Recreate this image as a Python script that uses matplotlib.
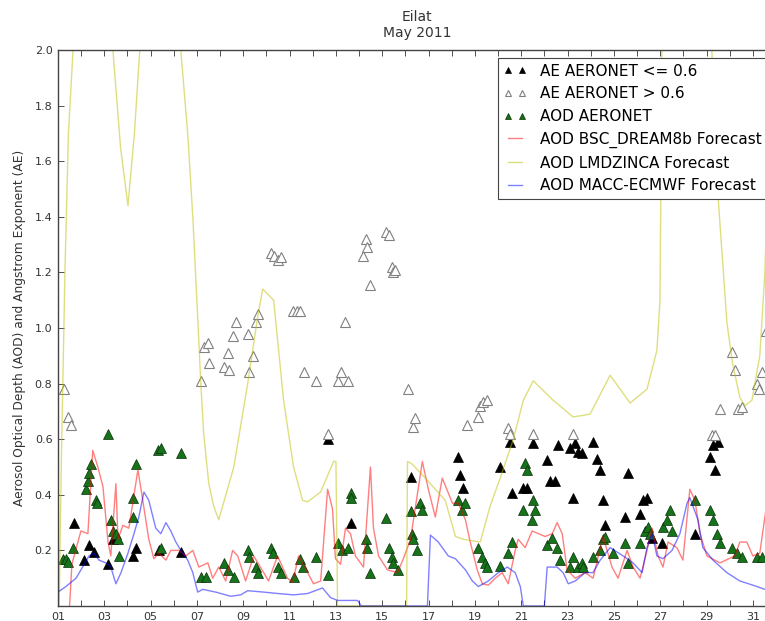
import matplotlib
matplotlib.use('Agg')
import matplotlib.pyplot as plt

# AOD forecasts (day of month, value)
bsc_days = [1.5, 1.6, 1.99, 2.29, 2.5, 2.72, 2.94, 3.16, 3.28, 3.5, 3.59, 3.8,
            4.06, 4.45, 4.66, 4.92, 5.14, 5.35, 5.66, 5.87, 6.22, 6.52, 6.82,
            7.08, 7.47, 7.68, 7.94, 8.24, 8.54, 8.76, 9.1, 9.45, 9.88, 10.09,
            10.48, 10.91, 11.13, 11.39, 11.78, 12.03, 12.34, 12.64, 12.85,
            12.98, 13.2, 13.41, 13.63, 13.84, 14.19, 14.49, 14.62, 14.84,
            15.22, 15.66, 15.91, 16.22, 16.73, 16.99, 17.29, 17.59, 18.03,
            18.28, 18.59, 18.8, 19.1, 19.32, 19.58, 19.88, 20.18, 20.44, 20.74,
            20.87, 21.17, 21.47, 22.03, 22.34, 22.55, 22.77, 22.98, 23.33,
            23.76, 24.1, 24.53, 24.92, 25.18, 25.57, 25.83, 26.13, 26.43,
            26.65, 26.91, 27.12, 27.34, 27.72, 27.98, 28.28, 28.5, 28.72,
            29.02, 29.58, 30.22, 30.44, 30.74, 31.0, 31.3, 31.52, 31.75]
bsc_aod = [0.0, 0.15, 0.27, 0.26, 0.56, 0.50, 0.43, 0.23, 0.18, 0.44, 0.24, 0.29,
           0.28, 0.49, 0.38, 0.24, 0.17, 0.19, 0.165, 0.2, 0.2, 0.18, 0.2,
           0.14, 0.155, 0.10, 0.14, 0.09, 0.2, 0.18, 0.09, 0.18, 0.12, 0.09,
           0.18, 0.10, 0.085, 0.18, 0.12, 0.08, 0.09, 0.42, 0.35,
           0.17, 0.15, 0.28, 0.26, 0.18, 0.14, 0.5, 0.28, 0.18,
           0.13, 0.12, 0.17, 0.24, 0.52, 0.42, 0.32, 0.46, 0.37,
           0.37, 0.31, 0.23, 0.13, 0.08, 0.075, 0.10, 0.12, 0.08, 0.2,
           0.24, 0.21, 0.27, 0.25, 0.26, 0.3, 0.26, 0.13, 0.10,
           0.12, 0.10, 0.25, 0.14, 0.10, 0.2, 0.14, 0.10, 0.2,
           0.28, 0.18, 0.14, 0.23, 0.21, 0.165, 0.42, 0.38, 0.26,
           0.18, 0.155, 0.18, 0.23, 0.23, 0.18, 0.19, 0.32, 0.45]

lmdz_days = [1.05, 1.15, 1.3, 1.45, 1.65, 2.3, 3.0, 3.37, 3.7, 4.02, 4.3, 4.53,
             5.3, 6.3, 6.6, 6.82, 7.03, 7.16, 7.29, 7.51, 7.72, 7.94, 8.59,
             9.19, 9.62, 9.84, 10.31, 10.74, 11.17, 11.56, 11.78, 12.34, 12.9,
             13.0, 13.07, 16.05, 16.09, 16.3, 16.86, 17.72, 18.16, 18.5,
             19.23, 19.66, 20.09, 20.66, 21.09, 21.52, 22.38, 23.24, 23.97,
             24.84, 25.7, 26.43, 26.86, 26.99, 27.03, 27.07, 28.2, 29.23,
             29.5, 29.88, 30.13, 30.44, 30.66, 30.96, 31.3, 31.52, 31.8]
lmdz_aod = [0.0, 0.55, 1.2, 1.7, 2.0, 2.6, 2.4, 2.0, 1.65, 1.44, 1.7, 2.0,
            2.5, 2.0, 1.7, 1.4, 1.04, 0.81, 0.62, 0.44, 0.36, 0.31, 0.5,
            0.8, 1.04, 1.14, 1.10, 0.74, 0.5, 0.38, 0.375, 0.41, 0.52,
            0.52, 0.0, 0.0, 0.52, 0.51, 0.46, 0.38, 0.25, 0.24,
            0.23, 0.36, 0.46, 0.6, 0.74, 0.81, 0.74, 0.68, 0.69,
            0.83, 0.73, 0.78, 0.92, 1.1, 1.5, 2.0, 2.8, 2.0,
            1.47, 1.02, 0.87, 0.75, 0.72, 0.74, 0.9, 1.2, 2.0]

macc_days = [1.0, 1.34, 1.78, 2.34, 2.55, 2.77, 3.07, 3.28, 3.5, 3.72, 4.02,
             4.28, 4.49, 4.71, 4.92, 5.22, 5.44, 5.66, 5.87, 6.09, 6.3, 6.6,
             6.82, 7.03, 7.25, 7.81, 8.46, 8.89, 9.19, 9.88, 10.48, 11.17,
             11.78, 12.42, 12.77, 13.07, 13.93, 14.1, 16.95, 17.08, 17.42,
             17.85, 18.16, 18.59, 18.89, 19.15, 19.58, 20.01, 20.4, 20.74,
             20.96, 21.09, 22.0, 22.12, 22.55, 22.81, 23.03, 23.33, 23.76,
             24.1, 24.41, 24.84, 25.4, 25.83, 26.22, 26.43, 26.65, 26.86,
             27.12, 27.51, 27.85, 28.16, 28.28, 28.41, 28.63, 28.84, 29.28,
             29.88, 30.44, 31.0, 31.52, 32.0]
macc_aod = [0.05, 0.07, 0.10, 0.18, 0.19, 0.165, 0.155, 0.14, 0.08, 0.12, 0.19,
            0.26, 0.32, 0.41, 0.38, 0.28, 0.26, 0.3, 0.27, 0.23, 0.2, 0.165,
            0.12, 0.05, 0.06, 0.05, 0.035, 0.04, 0.055, 0.05, 0.045, 0.04,
            0.045, 0.065, 0.03, 0.02, 0.02, 0.0, 0.0, 0.255, 0.23,
            0.18, 0.17, 0.13, 0.09, 0.07, 0.09, 0.12, 0.14, 0.12,
            0.07, 0.0, 0.0, 0.14, 0.14, 0.12, 0.08, 0.09, 0.12,
            0.12, 0.165, 0.21, 0.18, 0.155, 0.12, 0.21, 0.26, 0.18,
            0.17, 0.2, 0.26, 0.37, 0.39, 0.36, 0.31, 0.21, 0.165,
            0.12, 0.09, 0.075, 0.06, 0.05]

# AERONET observations
ae_low_days = [1.69, 2.12, 2.34, 2.55, 3.16, 3.37, 4.23, 4.36, 5.35, 6.3,
               12.64, 13.63, 16.22, 18.28, 18.37, 18.5, 20.09, 20.53, 20.61,
               21.09, 21.26, 21.52, 22.12, 22.25, 22.47, 22.59, 23.11, 23.24,
               23.33, 23.46, 23.63, 24.1, 24.28, 24.41, 24.53, 24.62, 25.48,
               25.61, 26.13, 26.26, 26.43, 26.65, 27.08, 28.5, 29.15, 29.28,
               29.36, 29.49]
ae_low = [0.30, 0.165, 0.22, 0.195, 0.15, 0.24, 0.18, 0.21, 0.2, 0.195,
          0.6, 0.3, 0.465, 0.535, 0.47, 0.425, 0.5, 0.59, 0.405,
          0.425, 0.425, 0.585, 0.525, 0.45, 0.45, 0.58, 0.57, 0.39,
          0.585, 0.555, 0.55, 0.59, 0.53, 0.49, 0.38, 0.29, 0.32,
          0.48, 0.33, 0.38, 0.39, 0.245, 0.225, 0.26, 0.535, 0.58,
          0.49, 0.59]

ae_high_days = [1.26, 1.43, 1.56, 7.16, 7.29, 7.47, 7.51, 8.16, 8.33, 8.37,
                8.54, 8.67, 9.19, 9.23, 9.41, 9.53, 9.62, 10.18, 10.31, 10.48,
                10.61, 11.13, 11.3, 11.47, 11.6, 12.12, 12.64, 13.11, 13.2,
                13.41, 13.54, 14.19, 14.28, 14.36, 14.49, 15.14, 15.27, 15.44,
                15.48, 15.57, 16.13, 16.34, 16.43, 18.67, 19.15, 19.23, 19.36,
                19.53, 20.44, 20.53, 21.52, 23.24, 29.23, 29.36, 29.58, 30.09,
                30.22, 30.35, 30.53, 31.17, 31.26, 31.39, 31.55]
ae_high = [0.78, 0.68, 0.65, 0.81, 0.93, 0.945, 0.875, 0.86, 0.91, 0.85,
           0.97, 1.02, 0.98, 0.84, 0.9, 1.02, 1.05, 1.27, 1.26, 1.245,
           1.255, 1.06, 1.06, 1.06, 0.84, 0.81, 0.62, 0.81, 0.84,
           1.02, 0.81, 1.26, 1.32, 1.29, 1.155, 1.345, 1.335, 1.22,
           1.2, 1.21, 0.78, 0.645, 0.675, 0.65, 0.68, 0.72, 0.735,
           0.74, 0.64, 0.62, 0.62, 0.62, 0.615, 0.615, 0.71, 0.915,
           0.85, 0.71, 0.715, 0.8, 0.78, 0.84, 0.99]

aod_days = [1.22, 1.34, 1.43, 1.65, 2.21, 2.29, 2.34, 2.42, 2.64, 2.68, 3.16,
            3.28, 3.37, 3.5, 3.59, 3.63, 4.23, 4.23, 4.36, 5.31, 5.44, 5.44,
            6.3, 7.16, 7.38, 8.16, 8.33, 8.59, 9.19, 9.23, 9.53, 9.62, 10.18,
            10.27, 10.48, 10.61, 11.17, 11.47, 11.56, 12.12, 12.64, 13.11,
            13.28, 13.5, 13.63, 13.63, 14.28, 14.36, 14.49, 15.14, 15.27,
            15.44, 15.48, 15.66, 16.22, 16.3, 16.34, 16.52, 16.65, 16.73,
            18.28, 18.46, 18.59, 19.15, 19.32, 19.45, 19.53, 20.09, 20.44,
            20.61, 21.09, 21.17, 21.26, 21.47, 21.52, 21.6, 22.12, 22.34,
            22.55, 22.68, 23.11, 23.24, 23.46, 23.63, 23.67, 24.1, 24.41,
            24.53, 24.62, 24.97, 25.48, 25.61, 26.13, 26.34, 26.47, 26.56,
            27.12, 27.29, 27.42, 27.51, 28.5, 29.15, 29.28, 29.45, 29.58,
            30.09, 30.31, 30.53, 31.17, 31.39]
aod = [0.17, 0.17, 0.16, 0.21, 0.42, 0.45, 0.48, 0.51, 0.38, 0.37, 0.62,
       0.31, 0.27, 0.26, 0.24, 0.18, 0.39, 0.32, 0.51, 0.56, 0.57, 0.21,
       0.55, 0.105, 0.105, 0.155, 0.13, 0.105, 0.2, 0.175, 0.14, 0.12, 0.21,
       0.19, 0.14, 0.12, 0.105, 0.17, 0.14, 0.175, 0.11, 0.225,
       0.2, 0.21, 0.405, 0.39, 0.24, 0.21, 0.12, 0.315, 0.21,
       0.175, 0.155, 0.13, 0.34, 0.26, 0.24, 0.2, 0.37, 0.345,
       0.38, 0.345, 0.37, 0.21, 0.175, 0.155, 0.14, 0.145, 0.19,
       0.23, 0.345, 0.515, 0.49, 0.31, 0.38, 0.345, 0.22, 0.245,
       0.21, 0.165, 0.14, 0.175, 0.14, 0.155, 0.14, 0.175, 0.2,
       0.24, 0.25, 0.19, 0.225, 0.155, 0.225, 0.27, 0.285, 0.26,
       0.285, 0.31, 0.345, 0.27, 0.38, 0.345, 0.31, 0.26, 0.225,
       0.21, 0.19, 0.175, 0.175, 0.175]

fig = plt.figure(figsize=(7.65, 6.21), dpi=100)
# axes run to the end of the month, slightly past the right edge of the canvas
ax = fig.add_axes([58 / 765, 15 / 621, 718 / 765, 556 / 621])

ms = 7
ax.plot(ae_low_days, ae_low, '^', color='k', mec='k', mew=0.5, ms=ms,
        label='AE AERONET <= 0.6')
ax.plot(ae_high_days, ae_high, '^', mfc='white', mec='#808080', mew=0.8,
        ms=ms, label='AE AERONET > 0.6')
ax.plot(aod_days, aod, '^', color='#16731a', mec='#0a300a', mew=0.5, ms=ms,
        label='AOD AERONET')
ax.plot(bsc_days, bsc_aod, '-', color='r', alpha=0.5, lw=1,
        label='AOD BSC_DREAM8b Forecast')
ax.plot(lmdz_days, lmdz_aod, '-', color=(0.75, 0.75, 0), alpha=0.5, lw=1,
        label='AOD LMDZINCA Forecast')
ax.plot(macc_days, macc_aod, '-', color='b', alpha=0.5, lw=1,
        label='AOD MACC-ECMWF Forecast')

ax.set_xlim(1, 32)
ax.set_ylim(0, 2.0)
ax.set_xticks(range(1, 32))
ax.set_xticklabels([('%02d' % d) if d % 2 == 1 else '' for d in range(1, 32)])
ax.set_yticks([0.2, 0.4, 0.6, 0.8, 1.0, 1.2, 1.4, 1.6, 1.8, 2.0])
ax.tick_params(direction='in', top=True, right=True, length=4, width=0.6,
               labelsize=8, colors='#333333', pad=4)
for s in ax.spines.values():
    s.set_color('#444444')
    s.set_linewidth(1.0)

ax.set_ylabel('Aerosol Optical Depth (AOD) and Angstrom Exponent (AE)',
              fontsize=8.8, color='#333333', labelpad=6)
ax.set_title('Eilat\nMay 2011', fontsize=10, color='#333333', pad=9)

leg = ax.legend(loc='upper right', numpoints=2, fontsize=11, fancybox=False,
                handlelength=1.5, handletextpad=0.9, borderaxespad=0.5,
                markerscale=0.7, framealpha=1)
leg.get_frame().set_edgecolor('#444444')
leg.get_frame().set_linewidth(0.8)

fig.savefig('out.png', dpi=100)
